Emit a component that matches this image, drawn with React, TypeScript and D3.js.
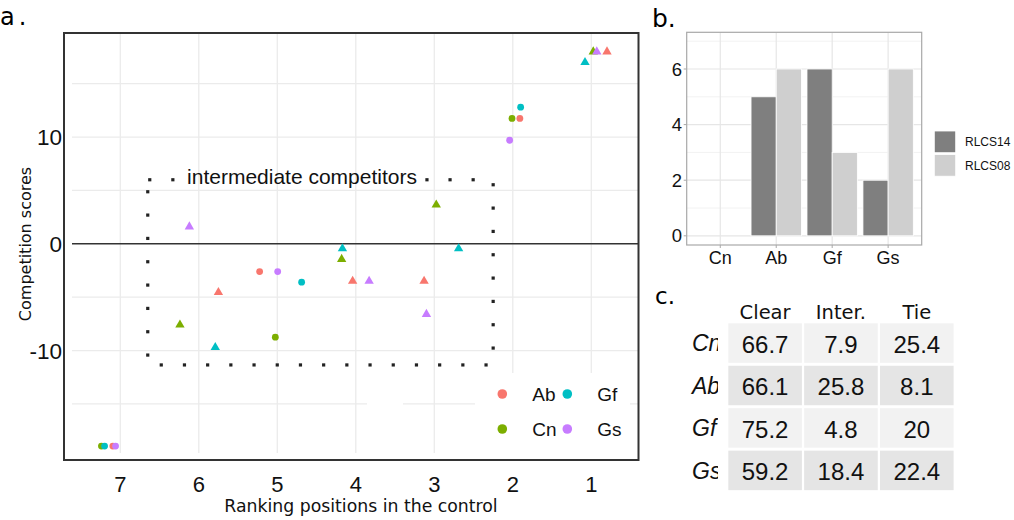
import React from 'react';
import * as d3 from 'd3';

// ---------- Panel a data ----------
const speciesNames = ['Ab', 'Cn', 'Gf', 'Gs'];
const speciesColors = ['#F8766D', '#7CAE00', '#00BFC4', '#C77CFF'];

const pointSpecies = ['Cn', 'Gs', 'Ab', 'Gf', 'Gf', 'Cn', 'Ab', 'Gs', 'Cn', 'Gs', 'Gf', 'Gf', 'Cn', 'Ab', 'Gs', 'Gf', 'Ab', 'Gs', 'Ab', 'Ab', 'Gs', 'Cn', 'Cn', 'Gf', 'Cn', 'Gf', 'Ab', 'Gs'];
const pointRank = [0.975, 0.93, 0.8, 1.08, 1.9, 2.01, 1.91, 2.04, 2.975, 6.12, 4.17, 2.69, 4.18, 5.225, 4.995, 4.69, 4.04, 3.83, 3.13, 5.75, 3.1, 6.24, 5.025, 5.79, 7.24, 7.2, 7.095, 7.06];
const pointScore = [18, 18, 18, 17, 12.8, 11.75, 11.75, 9.7, 3.65, 1.6, -0.45, -0.45, -1.45, -2.6, -2.6, -3.6, -3.5, -3.5, -3.5, -4.55, -6.6, -7.6, -8.75, -9.7, -18.95, -18.95, -18.95, -18.95];
const pointShape = ['tri', 'tri', 'tri', 'tri', 'circ', 'circ', 'circ', 'circ', 'tri', 'tri', 'tri', 'tri', 'tri', 'circ', 'circ', 'circ', 'tri', 'tri', 'tri', 'tri', 'tri', 'tri', 'circ', 'tri', 'circ', 'circ', 'circ', 'circ'];

const rankTicks = [7, 6, 5, 4, 3, 2, 1];
const scoreTicks = [10, 0, -10];
const scoreGrid = [15, 10, 5, -5, -10, -15];

// annotation box (data units)
const boxLeft = 6.65;
const boxRight = 2.25;
const boxTop = 6;
const boxBottom = -11.35;

// ---------- Panel b data ----------
const barCategories = ['Cn', 'Ab', 'Gf', 'Gs'];
const barSeries = ['RLCS14', 'RLCS08'];
const barColors = ['#7f7f7f', '#cfcfcf'];
const rlcs14 = [0, 5, 6, 2];
const rlcs08 = [0, 6, 3, 6];
const barTicks = [0, 2, 4, 6];
const barMinor = [1, 3, 5, 7];

// ---------- Panel c data ----------
const tableCols = ['Clear', 'Inter.', 'Tie'];
const tableRows = ['Cn', 'Ab', 'Gf', 'Gs'];
const clearVals = ['66.7', '66.1', '75.2', '59.2'];
const interVals = ['7.9', '25.8', '4.8', '18.4'];
const tieVals = ['25.4', '8.1', '20', '22.4'];

const SANS = '"Liberation Sans", Arial, Helvetica, sans-serif';
const DEJA = '"DejaVu Sans", Verdana, sans-serif';

export default function App() {
  const colorOf = (s: string) => speciesColors[speciesNames.indexOf(s)];

  // Panel a scales
  const aL = 72, aR = 638, aT = 33, aB = 453;
  const xA = d3.scaleLinear().domain([7.615, 0.405]).range([aL, aR]);
  const yA = d3.scaleLinear().domain([-19.6, 19.75]).range([aB, aT]);
  const tri = d3.symbol().type(d3.symbolTriangle).size(38)();

  // dotted box dots
  const bx0 = xA(boxLeft), bx1 = xA(boxRight), by0 = yA(boxTop), by1 = yA(boxBottom);
  const dots: [number, number][] = [];
  [0, 1, 12, 13, 14].forEach(k => dots.push([bx0 + 2 + k * 23.1, by0]));
  for (let k = 0; k < 8; k++) dots.push([bx0, by0 + 12 + k * 23.33]);
  for (let k = 0; k < 8; k++) dots.push([bx1, by0 + 5 + k * 23.33]);
  for (let k = 0; k < 15; k++) dots.push([bx0 + 13.5 + k * 23.2, by1]);

  // Panel b scales
  const bL = 686.7, bR = 921.7, bT = 32.3, bB = 245;
  const xB = d3.scalePoint<string>().domain(barCategories).range([bL, bR]).padding(0.6);
  const step = xB.step();
  const yB = d3.scaleLinear().domain([-0.33, 7.32]).range([bB, bT]);
  const dodge = d3.scaleBand<string>().domain(barSeries).range([-step * 0.45, step * 0.45]);
  const barVals = [rlcs14, rlcs08];

  // Panel c layout
  const cX0 = 728.3, cPitchX = 75.85, cW = 73.6;
  const cY0 = 323.3, cPitchY = 42.45, cH = 39.5;
  const colVals = [clearVals, interVals, tieVals];

  return (
    <svg width={1014} height={520} style={{ position: 'absolute', left: 0, top: 0, background: '#fff' }}>
      <defs>
        <clipPath id="rowclip">
          <rect x={680} y={300} width={38} height={220} />
        </clipPath>
      </defs>

      {/* ================= Panel a ================= */}
      <text x={0} y={25} fontFamily={DEJA} fontSize={24} letterSpacing={4} fill="#000">a.</text>
      {/* grid */}
      {scoreGrid.map(v => (
        <line key={'hg' + v} x1={aL} x2={aR} y1={yA(v)} y2={yA(v)} stroke="#ebebeb" strokeWidth={1.3} />
      ))}
      {rankTicks.map(v => (
        <line key={'vg' + v} x1={xA(v)} x2={xA(v)} y1={aT} y2={aB} stroke="#ebebeb" strokeWidth={1.3} />
      ))}
      {/* zero line */}
      <line x1={aL} x2={aR} y1={yA(0)} y2={yA(0)} stroke="#333" strokeWidth={1.4} />
      {/* white patches (legend backgrounds) */}
      <rect x={367} y={396} width={36} height={14} fill="#fff" />
      <rect x={475} y={373} width={155} height={80} fill="#fff" />
      {/* dotted box */}
      {dots.map(([x, y], i) => (
        <rect key={'d' + i} x={x - 1.6} y={y - 1.6} width={3.2} height={3.2} fill="#222" />
      ))}
      <text x={302} y={184} textAnchor="middle" fontFamily={SANS} fontSize={21} fill="#111">intermediate competitors</text>
      {/* points */}
      {pointRank.map((r, i) => {
        const cx = xA(r), cy = yA(pointScore[i]);
        const c = colorOf(pointSpecies[i]);
        return pointShape[i] === 'circ'
          ? <circle key={'p' + i} cx={cx} cy={cy} r={3.4} fill={c} />
          : <path key={'p' + i} d={tri as string} transform={`translate(${cx},${cy})`} fill={c} />;
      })}
      {/* legend */}
      {[['Ab', 0, 0], ['Gf', 1, 0], ['Cn', 0, 1], ['Gs', 1, 1]].map(([s, c, r]) => {
        const lx = 502.3 + (c as number) * 65;
        const ly = 394 + (r as number) * 35;
        return (
          <g key={'lg' + s}>
            <circle cx={lx} cy={ly} r={4.8} fill={colorOf(s as string)} />
            <text x={lx + 30} y={ly} dy="0.36em" fontFamily={SANS} fontSize={19} fill="#111">{s}</text>
          </g>
        );
      })}
      {/* border */}
      <rect x={64} y={33} width={574.5} height={427} fill="none" stroke="#333" strokeWidth={2} />
      {/* axes text */}
      {scoreTicks.map(v => (
        <text key={'yt' + v} x={62} y={yA(v)} dy="0.36em" textAnchor="end" fontFamily={SANS} fontSize={22.5} fill="#111">{v}</text>
      ))}
      {rankTicks.map(v => (
        <text key={'xt' + v} x={xA(v)} y={491.5} textAnchor="middle" fontFamily={SANS} fontSize={22} fill="#111">{v}</text>
      ))}
      <text x={361} y={512} textAnchor="middle" fontFamily={DEJA} fontSize={17.3} fill="#111">Ranking positions in the control</text>
      <text transform="translate(31,244) rotate(-90)" textAnchor="middle" fontFamily={DEJA} fontSize={16} fill="#111">Competition scores</text>

      {/* ================= Panel b ================= */}
      <text x={652} y={27} fontFamily={DEJA} fontSize={25} fill="#000">b.</text>
      {barMinor.map(v => (
        <line key={'bm' + v} x1={bL} x2={bR} y1={yB(v)} y2={yB(v)} stroke="#f2f2f2" strokeWidth={1} />
      ))}
      {barTicks.map(v => (
        <line key={'bj' + v} x1={bL} x2={bR} y1={yB(v)} y2={yB(v)} stroke="#e6e6e6" strokeWidth={1.2} />
      ))}
      {barCategories.map(c => (
        <line key={'bv' + c} x1={xB(c)} x2={xB(c)} y1={bT} y2={bB} stroke="#e6e6e6" strokeWidth={1.2} />
      ))}
      {barCategories.map((c, i) =>
        barSeries.map((s, j) => {
          const v = barVals[j][i];
          if (v <= 0) return null;
          const x = (xB(c) as number) + (dodge(s) as number);
          return (
            <rect key={'b' + c + s} x={x} y={yB(v)} width={dodge.bandwidth()} height={yB(0) - yB(v)}
              fill={barColors[j]} stroke="#fff" strokeWidth={0.8} />
          );
        })
      )}
      <rect x={bL} y={bT} width={bR - bL} height={bB - bT} fill="none" stroke="#a8a8a8" strokeWidth={1.2} />
      {barTicks.map(v => (
        <g key={'byt' + v}>
          <line x1={bL - 3} x2={bL} y1={yB(v)} y2={yB(v)} stroke="#a8a8a8" strokeWidth={1} />
          <text x={682} y={yB(v)} dy="0.36em" textAnchor="end" fontFamily={SANS} fontSize={18.5} fill="#111">{v}</text>
        </g>
      ))}
      {barCategories.map(c => (
        <g key={'bxt' + c}>
          <line x1={xB(c)} x2={xB(c)} y1={bB} y2={bB + 3} stroke="#a8a8a8" strokeWidth={1} />
          <text x={xB(c)} y={264} textAnchor="middle" fontFamily={SANS} fontSize={18} fill="#111">{c}</text>
        </g>
      ))}
      {barSeries.map((s, j) => (
        <g key={'bl' + s}>
          <rect x={934.3} y={131 + j * 23.5} width={21.4} height={21.7} fill={barColors[j]} stroke="#fff" strokeWidth={0.8} />
          <text x={965} y={141.8 + j * 23.5} dy="0.36em" fontFamily={SANS} fontSize={12} fill="#111">{s}</text>
        </g>
      ))}

      {/* ================= Panel c ================= */}
      <text x={655} y={304} fontFamily={DEJA} fontSize={23} fill="#000">c.</text>
      {tableCols.map((c, j) => (
        <text key={'ch' + c} x={cX0 + j * cPitchX + cW / 2} y={319} textAnchor="middle" fontFamily={DEJA} fontSize={19.5} fill="#111">{c}</text>
      ))}
      {tableRows.map((r, i) => (
        <g key={'row' + r}>
          <text x={692} y={cY0 + i * cPitchY + cH / 2} dy="0.36em" fontFamily={SANS} fontStyle="italic" fontSize={23} fill="#111" clipPath="url(#rowclip)">{r}</text>
          {colVals.map((vals, j) => (
            <g key={'cell' + r + j}>
              <rect x={cX0 + j * cPitchX} y={cY0 + i * cPitchY} width={cW} height={cH} fill={i % 2 === 0 ? '#f2f2f2' : '#e5e5e5'} />
              <text x={cX0 + j * cPitchX + cW / 2} y={cY0 + i * cPitchY + cH / 2 + 1} dy="0.36em" textAnchor="middle" fontFamily={SANS} fontSize={24} fill="#111">{vals[i]}</text>
            </g>
          ))}
        </g>
      ))}
    </svg>
  );
}
